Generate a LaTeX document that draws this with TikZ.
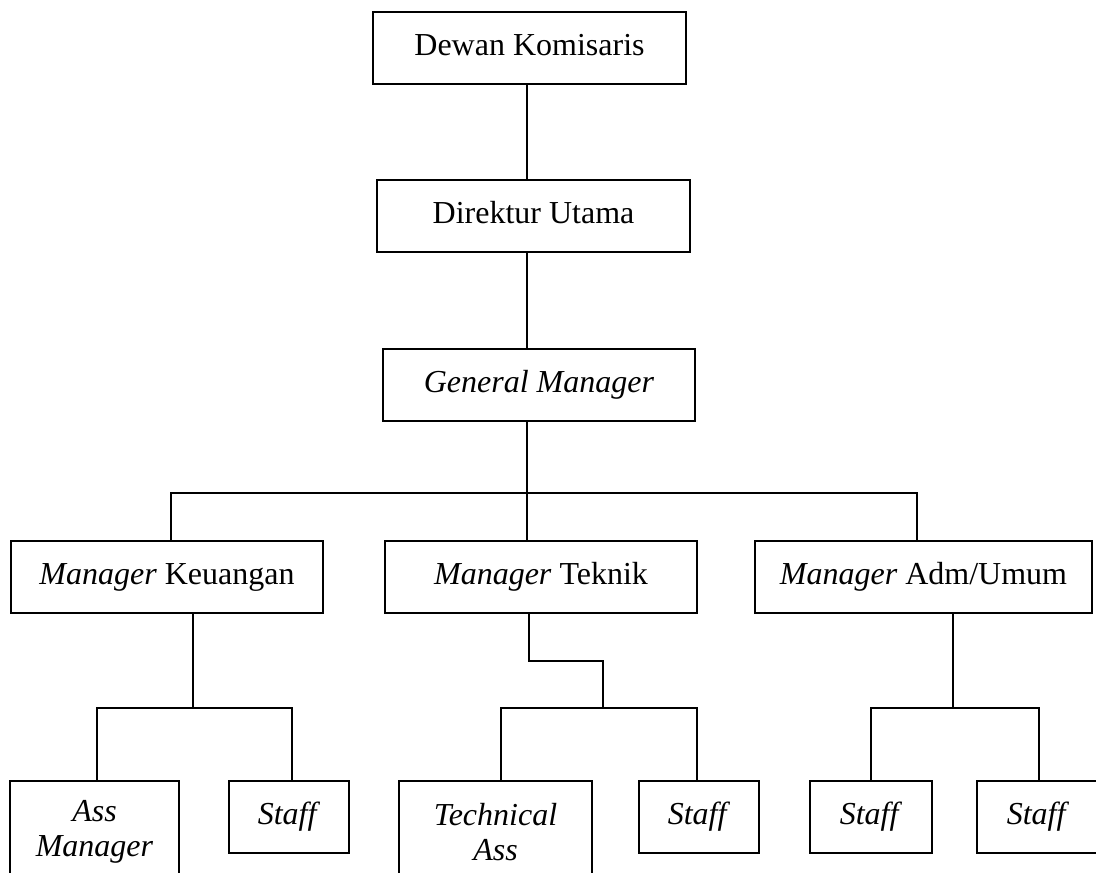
\documentclass[tikz,border=0pt]{standalone}
\usepackage{fontspec}
\setmainfont{Liberation Serif}
\begin{document}
\begin{tikzpicture}[x=0.5pt,y=-0.5pt,
  box/.style={draw,line width=1pt,rectangle,inner sep=0pt,align=center,
    font=\fontsize{16pt}{17.5pt}\selectfont},
  one/.style={box,text height=11.2pt,text depth=4pt,minimum height=36pt},
  two/.style={box,minimum height=51pt},
  conn/.style={line width=1pt}]
\clip (0,0) rectangle (1096,872);
\fill[white] (0,0) rectangle (1096,872);
% nodes
\node[one,minimum width=156.5pt] (dk) at (529.5,48) {Dewan Komisaris};
\node[one,minimum width=156.5pt] (du) at (533.5,216) {Direktur Utama};
\node[one,minimum width=156pt] (gm) at (539,385) {\textit{General Manager}};
\node[one,minimum width=156pt] (mk) at (167,577) {\textit{Manager} Keuangan};
\node[one,minimum width=156pt] (mt) at (541,577) {\textit{Manager} Teknik};
\node[one,minimum width=168.5pt] (ma) at (923.5,577) {\textit{Manager} Adm/Umum};
\node[two,minimum width=84.5pt] (am) at (94.5,832) {\textit{Ass}\\\textit{Manager}};
\node[one,minimum width=60pt] (s1) at (289,817) {\textit{Staff}};
\node[two,minimum width=96.5pt] (ta) at (495.5,832) {\textit{Technical}\\\textit{Ass}};
\node[one,minimum width=60pt] (s2) at (699,817) {\textit{Staff}};
\node[one,minimum width=61pt] (s3) at (871,817) {\textit{Staff}};
\node[one,minimum width=61pt] (s4) at (1038,817) {\textit{Staff}};
% helper coordinates
\coordinate (tx) at (527,0);
\coordinate (bL) at (171,493);
\coordinate (bR) at (917,493);
\coordinate (kM) at (193,708);
\coordinate (kL) at (97,708);
\coordinate (kR) at (292,708);
\coordinate (t1) at (529,661);
\coordinate (t2) at (603,661);
\coordinate (t3) at (603,708);
\coordinate (tL) at (501,708);
\coordinate (tR) at (697,708);
\coordinate (aM) at (953,708);
\coordinate (aL) at (871,708);
\coordinate (aR) at (1039,708);
% connectors
\draw[conn] (tx |- dk.south) -- (tx |- du.north);
\draw[conn] (tx |- du.south) -- (tx |- gm.north);
\draw[conn] (tx |- gm.south) -- (tx |- mt.north);
\draw[conn] (bL |- mk.north) -- (bL) -- (bR) -- (bR |- ma.north);
\draw[conn] (kM |- mk.south) -- (kM);
\draw[conn] (kL |- am.north) -- (kL) -- (kR) -- (kR |- s1.north);
\draw[conn] (t1 |- mt.south) -- (t1) -- (t2) -- (t3);
\draw[conn] (tL |- ta.north) -- (tL) -- (tR) -- (tR |- s2.north);
\draw[conn] (aM |- ma.south) -- (aM);
\draw[conn] (aL |- s3.north) -- (aL) -- (aR) -- (aR |- s4.north);
\end{tikzpicture}
\end{document}
